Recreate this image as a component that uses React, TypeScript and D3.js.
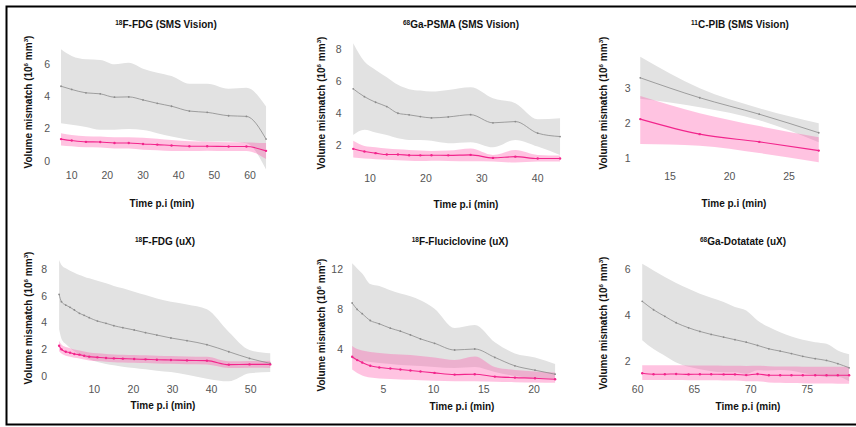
import React from "react";
import * as d3 from "d3";

// gray = first series (mean with band), pink = second series (mean with band)

// 18F-FDG (SMS Vision)
const fdgVisionTime = [7, 10, 14, 18, 22, 26, 30, 34, 38, 43, 48, 54, 59, 64.5];
const fdgVisionGrayMean = [4.62, 4.42, 4.21, 4.15, 3.94, 3.96, 3.77, 3.56, 3.38, 3.08, 3.0, 2.79, 2.75, 1.34];
const fdgVisionGrayHi = [6.92, 6.5, 6.29, 6.25, 5.98, 6.08, 5.71, 5.46, 5.25, 4.77, 4.77, 4.46, 4.52, 3.37];
const fdgVisionGrayLo = [2.33, 2.23, 2.09, 1.92, 1.92, 1.96, 1.9, 1.71, 1.5, 1.29, 1.19, 1.19, 1.09, -0.55];
const fdgVisionPinkMean = [1.34, 1.25, 1.17, 1.16, 1.1, 1.1, 1.04, 1.0, 0.94, 0.9, 0.9, 0.88, 0.88, 0.61];
const fdgVisionPinkHi = [1.71, 1.6, 1.52, 1.5, 1.45, 1.46, 1.42, 1.36, 1.28, 1.2, 1.17, 1.14, 1.13, 1.1];
const fdgVisionPinkLo = [0.95, 0.9, 0.83, 0.82, 0.76, 0.75, 0.68, 0.65, 0.6, 0.6, 0.62, 0.6, 0.6, 0.1];

// 68Ga-PSMA (SMS Vision)
const psmaTime = [7, 9, 11, 13, 15, 17, 19, 21, 24, 28, 32, 36, 40, 44];
const psmaGrayMean = [5.52, 5.03, 4.68, 4.41, 3.99, 3.89, 3.78, 3.7, 3.76, 3.9, 3.39, 3.47, 2.74, 2.53];
const psmaGrayHi = [8.38, 7.23, 6.71, 6.25, 5.77, 5.5, 5.41, 5.35, 5.45, 5.62, 4.93, 4.62, 3.62, 3.68];
const psmaGrayLo = [2.63, 2.95, 2.78, 2.63, 2.42, 2.32, 2.32, 2.26, 2.11, 2.18, 1.86, 2.32, 1.9, 1.38];
const psmaPinkMean = [1.76, 1.59, 1.49, 1.4, 1.4, 1.36, 1.35, 1.36, 1.35, 1.38, 1.19, 1.27, 1.15, 1.15];
const psmaPinkHi = [2.26, 1.94, 1.86, 1.78, 1.73, 1.69, 1.65, 1.63, 1.65, 1.78, 1.38, 1.69, 1.38, 1.34];
const psmaPinkLo = [1.21, 1.15, 1.11, 1.07, 1.05, 1.02, 1.0, 1.02, 1.0, 0.98, 0.96, 0.9, 0.96, 0.96];

// 11C-PIB (SMS Vision)
const pibTime = [12.5, 17.5, 22.5, 27.5];
const pibGrayMean = [3.3, 2.73, 2.26, 1.73];
const pibGrayHi = [3.9, 3.0, 2.43, 2.0];
const pibGrayLo = [2.7, 2.46, 2.09, 1.46];
const pibPinkMean = [2.12, 1.69, 1.47, 1.22];
const pibPinkHi = [2.78, 2.29, 1.92, 1.6];
const pibPinkLo = [1.41, 1.36, 1.15, 0.89];

// 18F-FDG (uX)
const fdgUxTime = [1, 1.6, 2.7, 3.8, 4.9, 6.2, 7.4, 8.7, 10.8, 13, 15, 17.3, 20.2, 23.1, 26, 29.6, 33.7, 38.8, 44.4, 49.7, 55];
const fdgUxGrayMean = [6.12, 5.57, 5.32, 5.15, 4.95, 4.7, 4.55, 4.37, 4.12, 3.95, 3.77, 3.62, 3.45, 3.25, 3.07, 2.85, 2.65, 2.35, 1.82, 1.32, 0.95];
const fdgUxGrayHi = [8.7, 8.32, 8.07, 7.9, 7.75, 7.57, 7.45, 7.32, 7.15, 6.95, 6.75, 6.57, 6.32, 6.07, 5.82, 5.57, 5.37, 5.0, 3.3, 1.95, 1.7];
const fdgUxGrayLo = [3.5, 2.8, 2.4, 2.1, 1.85, 1.6, 1.4, 1.25, 1.05, 0.9, 0.8, 0.7, 0.6, 0.5, 0.4, 0.3, 0.1, -0.2, -0.4, 0.2, 0.3];
const fdgUxPinkMean = [2.27, 2.0, 1.82, 1.75, 1.65, 1.6, 1.52, 1.45, 1.4, 1.35, 1.32, 1.3, 1.27, 1.25, 1.22, 1.2, 1.17, 1.15, 0.85, 0.87, 0.87];
const fdgUxPinkHi = [2.65, 2.36, 2.17, 2.09, 1.98, 1.92, 1.84, 1.76, 1.7, 1.65, 1.62, 1.6, 1.57, 1.55, 1.52, 1.5, 1.47, 1.44, 1.1, 1.12, 1.15];
const fdgUxPinkLo = [1.85, 1.68, 1.52, 1.45, 1.36, 1.31, 1.23, 1.17, 1.12, 1.07, 1.04, 1.02, 0.99, 0.97, 0.94, 0.92, 0.89, 0.87, 0.6, 0.62, 0.6];

// 18F-Fluciclovine (uX)
const flucTime = [1.9, 2.4, 2.9, 3.7, 4.6, 5.7, 6.7, 7.7, 8.7, 10.1, 12.1, 14.1, 16.1, 18.1, 20.1, 22.1];
const flucGrayMean = [8.6, 7.96, 7.53, 6.85, 6.52, 6.08, 5.78, 5.41, 5.01, 4.57, 3.9, 4.0, 3.16, 2.32, 1.88, 1.48];
const flucGrayHi = [12.57, 12.06, 11.56, 10.5, 10.3, 9.88, 9.54, 9.27, 8.87, 8.03, 6.1, 6.4, 4.67, 3.56, 3.16, 2.49];
const flucGrayLo = [3.0, 2.9, 2.8, 2.7, 2.6, 2.5, 2.4, 2.35, 2.3, 2.2, 2.1, 2.2, 1.7, 1.3, 1.1, 1.0];
const flucPinkMean = [3.23, 2.89, 2.65, 2.32, 2.15, 2.05, 1.95, 1.85, 1.75, 1.61, 1.44, 1.48, 1.24, 1.14, 1.08, 0.97];
const flucPinkHi = [4.3, 4.0, 3.85, 3.7, 3.6, 3.5, 3.45, 3.4, 3.3, 3.15, 2.9, 3.25, 2.2, 1.9, 1.75, 1.65];
const flucPinkLo = [1.95, 1.6, 1.35, 1.15, 1.05, 1.0, 0.95, 0.92, 0.88, 0.82, 0.78, 0.78, 0.72, 0.68, 0.65, 0.62];

// 68Ga-Dotatate (uX)
const dotaTime = [60.4, 61.4, 62.4, 63.4, 64.5, 65.5, 66.5, 67.6, 68.6, 69.6, 70.6, 71.6, 72.6, 73.6, 74.6, 75.7, 76.7, 77.7, 78.7];
const dotaGrayMean = [4.6, 4.23, 3.94, 3.66, 3.44, 3.28, 3.15, 3.03, 2.92, 2.81, 2.67, 2.52, 2.42, 2.31, 2.19, 2.09, 2.01, 1.87, 1.69];
const dotaGrayHi = [6.24, 5.95, 5.66, 5.4, 5.15, 4.93, 4.76, 4.57, 4.35, 4.2, 3.76, 3.47, 3.25, 3.06, 2.92, 2.81, 2.74, 2.45, 2.28];
const dotaGrayLo = [2.9, 2.51, 2.22, 1.92, 1.73, 1.63, 1.54, 1.49, 1.49, 1.42, 1.58, 1.57, 1.59, 1.56, 1.46, 1.37, 1.28, 1.29, 1.1];
const dotaPinkMean = [1.45, 1.41, 1.41, 1.42, 1.4, 1.41, 1.41, 1.4, 1.4, 1.37, 1.42, 1.36, 1.36, 1.36, 1.36, 1.36, 1.36, 1.36, 1.36];
const dotaPinkHi = [1.8, 1.8, 1.8, 1.8, 1.79, 1.79, 1.79, 1.78, 1.78, 1.77, 1.78, 1.76, 1.75, 1.75, 1.74, 1.74, 1.74, 1.73, 1.73];
const dotaPinkLo = [1.15, 1.15, 1.15, 1.15, 1.14, 1.14, 1.14, 1.13, 1.13, 1.1, 1.1, 1.05, 1.03, 1.02, 1.01, 1.0, 1.0, 0.99, 0.99];

const panels = [
  {
    iso: "18", title: "F-FDG (SMS Vision)",
    time: fdgVisionTime,
    gray: [fdgVisionGrayMean, fdgVisionGrayLo, fdgVisionGrayHi],
    pink: [fdgVisionPinkMean, fdgVisionPinkLo, fdgVisionPinkHi],
    xTicks: [10, 20, 30, 40, 50, 60], yTicks: [0, 2, 4, 6],
    xd: [10, 60], xr: [71.7, 250], yd: [0, 6], yr: [160.7, 64],
    titleX: 166, titleY: 24, yTickX: 50, yLabX: 28, yLabY: 102, xTickY: 175, xLabX: 162, xLabY: 203,
  },
  {
    iso: "68", title: "Ga-PSMA (SMS Vision)",
    time: psmaTime,
    gray: [psmaGrayMean, psmaGrayLo, psmaGrayHi],
    pink: [psmaPinkMean, psmaPinkLo, psmaPinkHi],
    xTicks: [10, 20, 30, 40], yTicks: [2, 4, 6, 8],
    xd: [10, 40], xr: [370, 537.7], yd: [2, 8], yr: [145, 49.3],
    titleX: 461, titleY: 24, yTickX: 341.5, yLabX: 321, yLabY: 103, xTickY: 178, xLabX: 466, xLabY: 204,
  },
  {
    iso: "11", title: "C-PIB (SMS Vision)",
    time: pibTime,
    gray: [pibGrayMean, pibGrayLo, pibGrayHi],
    pink: [pibPinkMean, pibPinkLo, pibPinkHi],
    xTicks: [15, 20, 25], yTicks: [1, 2, 3],
    xd: [15, 25], xr: [670, 789], yd: [1, 3], yr: [158.3, 88.3],
    titleX: 740, titleY: 24, yTickX: 630.5, yLabX: 603, yLabY: 103, xTickY: 176, xLabX: 734, xLabY: 203,
  },
  {
    iso: "18", title: "F-FDG (uX)",
    time: fdgUxTime,
    gray: [fdgUxGrayMean, fdgUxGrayLo, fdgUxGrayHi],
    pink: [fdgUxPinkMean, fdgUxPinkLo, fdgUxPinkHi],
    xTicks: [10, 20, 30, 40, 50], yTicks: [0, 2, 4, 6, 8],
    xd: [10, 50], xr: [94.3, 250.7], yd: [0, 8], yr: [376, 269.3],
    titleX: 165, titleY: 241, yTickX: 47, yLabX: 28, yLabY: 318, xTickY: 389, xLabX: 163, xLabY: 405,
  },
  {
    iso: "18", title: "F-Fluciclovine (uX)",
    time: flucTime,
    gray: [flucGrayMean, flucGrayLo, flucGrayHi],
    pink: [flucPinkMean, flucPinkLo, flucPinkHi],
    xTicks: [5, 10, 15, 20], yTicks: [4, 8, 12],
    xd: [5, 20], xr: [383.3, 534], yd: [4, 12], yr: [349, 269],
    titleX: 460, titleY: 241, yTickX: 343, yLabX: 321, yLabY: 325, xTickY: 389, xLabX: 462, xLabY: 406,
  },
  {
    iso: "68", title: "Ga-Dotatate (uX)",
    time: dotaTime,
    gray: [dotaGrayMean, dotaGrayLo, dotaGrayHi],
    pink: [dotaPinkMean, dotaPinkLo, dotaPinkHi],
    xTicks: [60, 65, 70, 75], yTicks: [2, 4, 6],
    xd: [60, 75], xr: [637.7, 807.3], yd: [2, 6], yr: [360.7, 269.3],
    titleX: 743, titleY: 241, yTickX: 630.5, yLabX: 603, yLabY: 323, xTickY: 389, xLabX: 748, xLabY: 406,
  },
];

const FONT = "'Liberation Sans', Arial, Helvetica, sans-serif";

function Panel({ p }: { p: any }) {
  const x = d3.scaleLinear().domain(p.xd).range(p.xr);
  const y = d3.scaleLinear().domain(p.yd).range(p.yr);
  const idx = p.time.map((_: number, i: number) => i);

  const band = (s: number[][]) =>
    d3
      .area<number>()
      .curve(d3.curveMonotoneX)
      .x((i) => x(p.time[i]))
      .y0((i) => y(s[1][i]))
      .y1((i) => y(s[2][i]))(idx) || "";
  const line = (s: number[][]) =>
    d3
      .line<number>()
      .curve(d3.curveMonotoneX)
      .x((i) => x(p.time[i]))
      .y((i) => y(s[0][i]))(idx) || "";

  return (
    <g fontFamily={FONT}>
      <path d={band(p.gray)} fill="#e2e2e2" />
      <path d={band(p.pink)} fill="#ff5aab" fillOpacity={0.36} />
      <path d={line(p.gray)} fill="none" stroke="#8c8c8c" strokeWidth={0.8} />
      {idx.map((i: number) => (
        <circle key={"g" + i} cx={x(p.time[i])} cy={y(p.gray[0][i])} r={0.9} fill="#8c8c8c" />
      ))}
      <path d={line(p.pink)} fill="none" stroke="#f2258c" strokeWidth={1.1} />
      {idx.map((i: number) => (
        <circle key={"p" + i} cx={x(p.time[i])} cy={y(p.pink[0][i])} r={1.2} fill="#f2258c" />
      ))}

      <text x={p.titleX} y={p.titleY + 3.5} textAnchor="middle" fontSize={10} fontWeight="bold" fill="#111">
        <tspan fontSize={6.5} dy={-3}>{p.iso}</tspan>
        <tspan dy={3}>{p.title}</tspan>
      </text>

      {p.yTicks.map((t: number) => (
        <text key={"y" + t} x={p.yTickX} y={y(t) + 3.8} textAnchor="end" fontSize={10.5} fill="#555">
          {t}
        </text>
      ))}
      {p.xTicks.map((t: number) => (
        <text key={"x" + t} x={x(t)} y={p.xTickY + 3.8} textAnchor="middle" fontSize={10.5} fill="#555">
          {t}
        </text>
      ))}

      <text
        transform={`translate(${p.yLabX + 3.6},${p.yLabY}) rotate(-90)`}
        textAnchor="middle"
        fontSize={10}
        fontWeight="bold"
        fill="#111"
      >
        Volume mismatch (10<tspan fontSize={6.2} dy={-3.2}>6</tspan>
        <tspan dy={3.2}> mm</tspan>
        <tspan fontSize={6.2} dy={-3.2}>3</tspan>
        <tspan dy={3.2}>)</tspan>
      </text>
      <text x={p.xLabX} y={p.xLabY + 3.5} textAnchor="middle" fontSize={10} fontWeight="bold" fill="#111">
        Time p.i (min)
      </text>
    </g>
  );
}

export default function App() {
  return (
    <svg
      width={856}
      height={427}
      style={{ position: "absolute", left: 0, top: 0, background: "#fff" }}
    >
      <rect x={0} y={0} width={856} height={427} fill="#fff" />
      {panels.map((p, i) => (
        <Panel key={i} p={p} />
      ))}
      <rect x={6.5} y={6.5} width={856} height={418} fill="none" stroke="#000" strokeWidth={2} />
    </svg>
  );
}
